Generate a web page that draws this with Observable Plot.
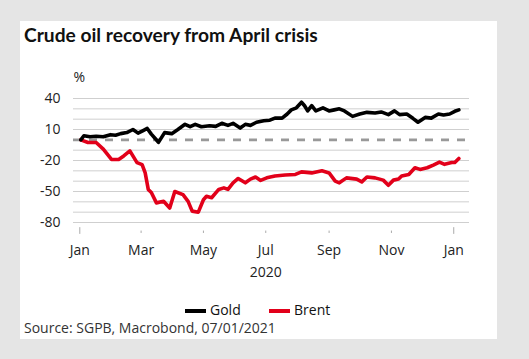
<!DOCTYPE html>
<html>
<head>
<meta charset="utf-8">
<script src="https://cdn.jsdelivr.net/npm/d3@7"></script>
<script src="https://cdn.jsdelivr.net/npm/@observablehq/plot@0.6"></script>
<style>
  body { margin: 0; background: #e5e5e5; font-family: "Open Sans", sans-serif; }
  #panel { position: absolute; left: 20px; top: 21px; width: 477px; height: 318px; background: #fff; }
  #title { position: absolute; left: 24px; top: 23px; font-family: Lato, sans-serif; font-size: 19.2px; font-weight: 700; color: #111; line-height: 24px; white-space: nowrap; }
  #chart { position: absolute; left: 0; top: 60px; }
  .leg { position: absolute; top: 300px; font-size: 14px; color: #111; line-height: 20px; }
  .sw { position: absolute; top: 309px; width: 21px; height: 4px; }
  #source { position: absolute; left: 24px; top: 318px; font-size: 14px; color: #333; line-height: 20px; white-space: nowrap; }
</style>
</head>
<body>
<div id="panel"></div>
<div id="title">Crude oil recovery from April crisis</div>
<div id="chart"></div>
<div class="sw" style="left:185px;background:#000"></div>
<div class="leg" style="left:210px">Gold</div>
<div class="sw" style="left:269px;background:#e2001a"></div>
<div class="leg" style="left:294px">Brent</div>
<div id="source">Source: SGPB, Macrobond, 07/01/2021</div>
<script>
const goldDates = ["2020-01-02","2020-01-05","2020-01-11","2020-01-17","2020-01-24","2020-01-31","2020-02-05","2020-02-10","2020-02-16","2020-02-22","2020-02-27","2020-03-03","2020-03-07","2020-03-11","2020-03-15","2020-03-18","2020-03-24","2020-03-31","2020-04-06","2020-04-13","2020-04-18","2020-04-23","2020-04-29","2020-05-07","2020-05-13","2020-05-19","2020-05-25","2020-05-30","2020-06-06","2020-06-11","2020-06-16","2020-06-22","2020-06-29","2020-07-05","2020-07-10","2020-07-17","2020-07-22","2020-07-26","2020-07-31","2020-08-05","2020-08-08","2020-08-11","2020-08-15","2020-08-19","2020-08-26","2020-09-01","2020-09-06","2020-09-11","2020-09-16","2020-09-24","2020-10-01","2020-10-08","2020-10-16","2020-10-22","2020-10-29","2020-11-04","2020-11-09","2020-11-16","2020-11-22","2020-11-27","2020-12-04","2020-12-10","2020-12-17","2020-12-22","2020-12-28","2021-01-02","2021-01-06"];
const goldValues = [0,4,3,3.5,3,5,4.5,6,7,10,6.5,9,11,5.5,1,-2.5,7,6,10,15,12.7,15,12.7,13.7,13,16,14,16,11.4,15,14,17,18.5,19,21,21,25,29,31,36.4,33,28,33,28,31,28,29,30,28,22.7,25,26.6,26,27,24.4,28,24.4,25,20.8,17,21.7,21,25,24,25,27.6,29];
const brentDates = ["2020-01-02","2020-01-09","2020-01-17","2020-01-24","2020-02-01","2020-02-08","2020-02-13","2020-02-19","2020-02-26","2020-03-02","2020-03-05","2020-03-08","2020-03-11","2020-03-16","2020-03-23","2020-03-29","2020-04-03","2020-04-11","2020-04-16","2020-04-20","2020-04-26","2020-05-01","2020-05-04","2020-05-09","2020-05-16","2020-05-21","2020-05-25","2020-05-30","2020-06-04","2020-06-11","2020-06-16","2020-06-21","2020-06-26","2020-07-02","2020-07-10","2020-07-20","2020-07-30","2020-08-05","2020-08-15","2020-08-25","2020-09-01","2020-09-07","2020-09-11","2020-09-18","2020-09-28","2020-10-03","2020-10-08","2020-10-16","2020-10-24","2020-10-29","2020-11-03","2020-11-08","2020-11-11","2020-11-18","2020-11-24","2020-11-29","2020-12-06","2020-12-12","2020-12-18","2020-12-23","2020-12-30","2021-01-02","2021-01-06"];
const brentValues = [0,-2.6,-2.6,-9,-19,-19,-15.6,-10.7,-22,-24,-32,-48,-51,-61,-59.5,-66,-50,-53,-59.5,-69,-70,-58,-54.6,-56,-48,-46.5,-48,-41.6,-37.4,-41.6,-38,-36,-39.3,-36.8,-35,-34,-33.5,-31,-32,-30,-32,-40,-41.6,-36.8,-38,-40.7,-36,-36.8,-39,-44,-39,-38,-35,-33.5,-27,-28.6,-27,-24.4,-21.5,-23.7,-22,-22,-18];
const yTicks = [40, 10, -20, -50, -80];
const xTickDates = ["2020-01-01","2020-03-01","2020-05-01","2020-07-01","2020-09-01","2020-11-01","2021-01-01"];
const yearLabel = "2020";

const gold = goldDates.map((d, i) => ({date: new Date(d), value: goldValues[i]}));
const brent = brentDates.map((d, i) => ({date: new Date(d), value: brentValues[i]}));
const xt = xTickDates.map(d => new Date(d));
const janTicks = xt.filter(d => d.getUTCMonth() === 0);
const otherTicks = xt.filter(d => d.getUTCMonth() !== 0);
const grid = d3.range(-80, 41, 10).filter(v => v !== 0);

const chart = Plot.plot({
  width: 529,
  height: 230,
  marginLeft: 73,
  marginRight: 60,
  marginTop: 38,
  marginBottom: 68,
  style: {fontFamily: "Open Sans, sans-serif", fontSize: "14px", color: "#222", background: "transparent"},
  x: {type: "utc", domain: [new Date("2019-12-25T20:00Z"), new Date("2021-01-16T10:00Z")]},
  y: {domain: [-80, 40]},
  marks: [
    Plot.ruleY(grid, {stroke: "#cfcfcf", strokeWidth: 1}),
    Plot.ruleY([0], {stroke: "#999", strokeWidth: 2.7, strokeDasharray: "8,8"}),
    Plot.ruleX(otherTicks, {x: d => d, y1: -88.3, y2: -90.6, stroke: "#aaa"}),
    Plot.ruleX(janTicks, {x: d => d, y1: -85, y2: -91.5, stroke: "#aaa"}),
    Plot.axisY({ticks: yTicks, tickSize: 0, tickPadding: 13, fontSize: 14, label: null, tickFormat: d => String(d)}),
    Plot.axisX({ticks: xt, tickSize: 0, tickPadding: 23, fontSize: 14, label: null, tickFormat: d3.utcFormat("%b")}),
    Plot.text([yearLabel], {x: () => new Date("2020-07-01"), frameAnchor: "bottom", dy: 54, fontSize: 14, fill: "#222"}),
    Plot.text(["%"], {frameAnchor: "top-left", textAnchor: "start", dy: -26, fontSize: 14, fill: "#222"}),
    Plot.line(brent, {x: "date", y: "value", stroke: "#e2001a", strokeWidth: 3.6}),
    Plot.line(gold, {x: "date", y: "value", stroke: "#000", strokeWidth: 3.6})
  ]
});
document.getElementById("chart").appendChild(chart);
</script>
</body>
</html>
